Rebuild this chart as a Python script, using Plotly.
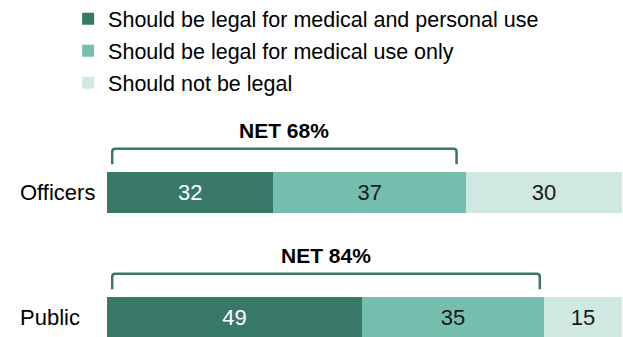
import plotly.graph_objects as go

groups = ["Officers", "Public"]
series_names = [
    "Should be legal for medical and personal use",
    "Should be legal for medical use only",
    "Should not be legal",
]
legal_both = [32, 49]
medical_only = [37, 35]
not_legal = [30, 15]
net_legal = [68, 84]

colors = ["#387866", "#76bfae", "#d0e8e2"]
text_colors = ["white", "#1a1a1a", "#1a1a1a"]
FONT = "Liberation Sans, Arial, sans-serif"

fig = go.Figure()
for k, (name, vals) in enumerate(zip(series_names, [legal_both, medical_only, not_legal])):
    fig.add_trace(go.Bar(
        y=groups, x=vals, name=name, orientation="h",
        marker=dict(color=colors[k], line=dict(width=0)),
        text=[str(v) for v in vals], textposition="inside",
        insidetextanchor="middle", constraintext="none",
        textfont=dict(color=text_colors[k], size=22, family=FONT),
        width=0.33, legendgroup=f"g{k}", hoverinfo="skip",
    ))

# category index: Public=0, Officers=1
order = ["Public", "Officers"]
shapes = []
annotations = []
for g, n in zip(groups, net_legal):
    yi = order.index(g)
    x0, x1 = 1.0, n - 0.8
    ytop, ybot = yi + 0.35, yi + 0.225
    rx, ry = 0.6, 0.025
    path = (f"M{x0},{ybot} L{x0},{ytop - ry} Q{x0},{ytop} {x0 + rx},{ytop} "
            f"L{x1 - rx},{ytop} Q{x1},{ytop} {x1},{ytop - ry} L{x1},{ybot}")
    shapes.append(dict(type="path", path=path, xref="x", yref="y",
                       line=dict(color=colors[0], width=2.5)))
    annotations.append(dict(x=(x0 + x1) / 2, y=yi + 0.5, xref="x", yref="y",
                            text=f"<b>NET {n}%</b>", showarrow=False,
                            font=dict(size=21, family=FONT, color="black")))
    # left-aligned category label
    annotations.append(dict(x=-0.173, y=yi, xref="paper", yref="y",
                            text=g, showarrow=False, xanchor="left",
                            font=dict(size=22, family=FONT, color="black")))

fig.update_layout(
    template="none",
    barmode="stack",
    width=623, height=337,
    margin=dict(l=107, r=1, t=0, b=0, autoexpand=False),
    paper_bgcolor="white", plot_bgcolor="white",
    font=dict(family=FONT, color="black"),
    showlegend=True,
    legend=dict(x=-0.0755, y=1.005, xanchor="left", yanchor="top",
                traceorder="grouped", tracegroupgap=1,
                font=dict(size=21.5, family=FONT, color="black"),
                bgcolor="rgba(0,0,0,0)"),
    xaxis=dict(range=[0, 99], visible=False, fixedrange=True, automargin=False),
    yaxis=dict(type="category", categoryorder="array", categoryarray=order,
               range=[-0.156, 2.54], showgrid=False, zeroline=False,
               showline=False, ticks="", showticklabels=False, automargin=False,
               fixedrange=True),
    shapes=shapes, annotations=annotations,
    bargap=0,
)

fig.write_html(
    "out.html",
    config={"displayModeBar": False, "staticPlot": True},
    post_script="document.body.style.margin='0';document.body.style.overflow='hidden';",
)
